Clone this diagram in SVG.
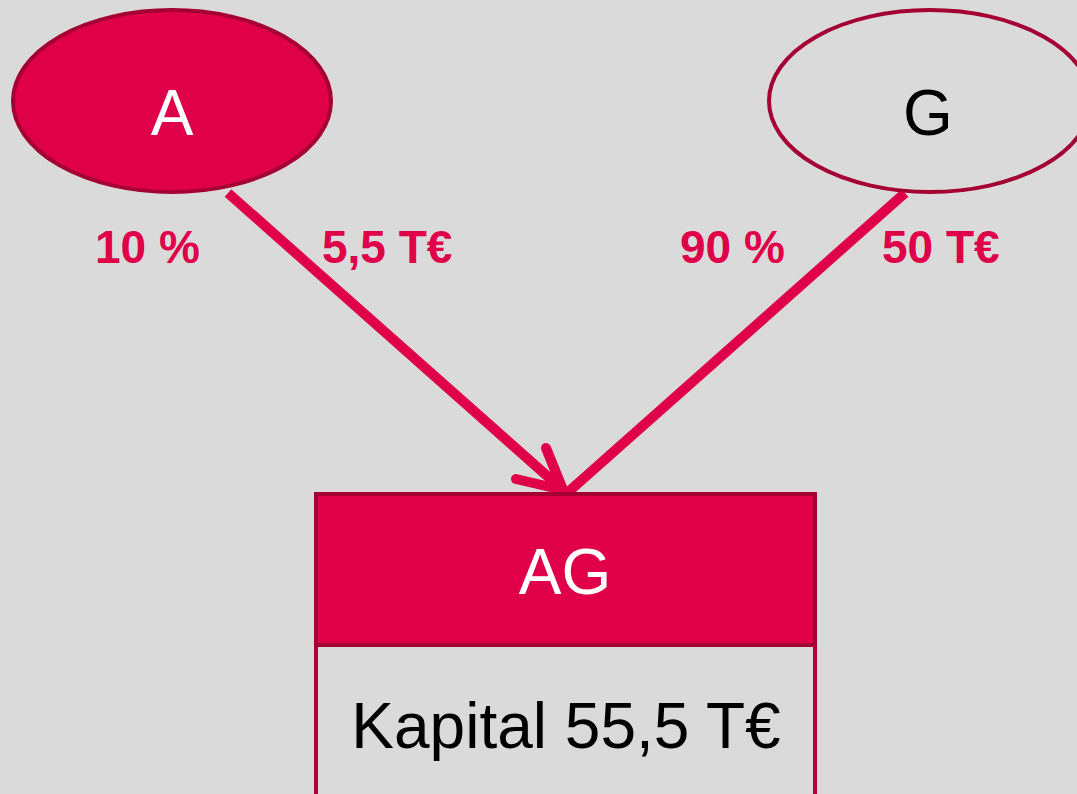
<svg xmlns="http://www.w3.org/2000/svg" width="1077" height="794" viewBox="0 0 1077 794">
<style>
.lbl{font-family:"Liberation Sans",Arial,sans-serif;font-weight:bold;font-size:46px;fill:#E0004A}
.big{font-family:"Liberation Sans",Arial,sans-serif;font-size:64px}
.edge{stroke:#E0004A;stroke-width:10;fill:none;stroke-linecap:butt}
.head{stroke:#E0004A;stroke-width:10;fill:none;stroke-linecap:round;stroke-linejoin:round}
</style>
<rect width="1077" height="794" fill="#DADADA"/>
<g id="connectors">
<line class="edge" x1="228" y1="193" x2="563" y2="490"/>
<line class="edge" x1="905" y1="193" x2="566" y2="494"/>
<polyline class="head" points="546,448 563,490 516,479"/>
<text class="lbl" x="95" y="263">10 %</text>
<text class="lbl" x="322" y="263">5,5 T€</text>
<text class="lbl" x="680" y="263">90 %</text>
<text class="lbl" x="882" y="263">50 T€</text>
</g>
<g id="nodeA">
<ellipse cx="172" cy="101" rx="159" ry="91" fill="#E0004A" stroke="#A50034" stroke-width="4"/>
<text class="big" x="172" y="135" text-anchor="middle" fill="#FFFFFF">A</text>
</g>
<g id="nodeG">
<ellipse cx="930" cy="101" rx="161" ry="91" fill="none" stroke="#A50034" stroke-width="4"/>
<text class="big" x="928" y="135" text-anchor="middle" fill="#000000">G</text>
</g>
<g id="nodeAG">
<rect x="316" y="645" width="499" height="200" fill="none" stroke="#B0003A" stroke-width="4"/>
<rect x="316" y="494" width="499" height="151" fill="#E0004A" stroke="#A50034" stroke-width="4"/>
<text class="big" x="565" y="594" text-anchor="middle" fill="#FFFFFF">AG</text>
<text class="big" x="566" y="748" text-anchor="middle" fill="#000000">Kapital 55,5 T€</text>
</g>
</svg>
